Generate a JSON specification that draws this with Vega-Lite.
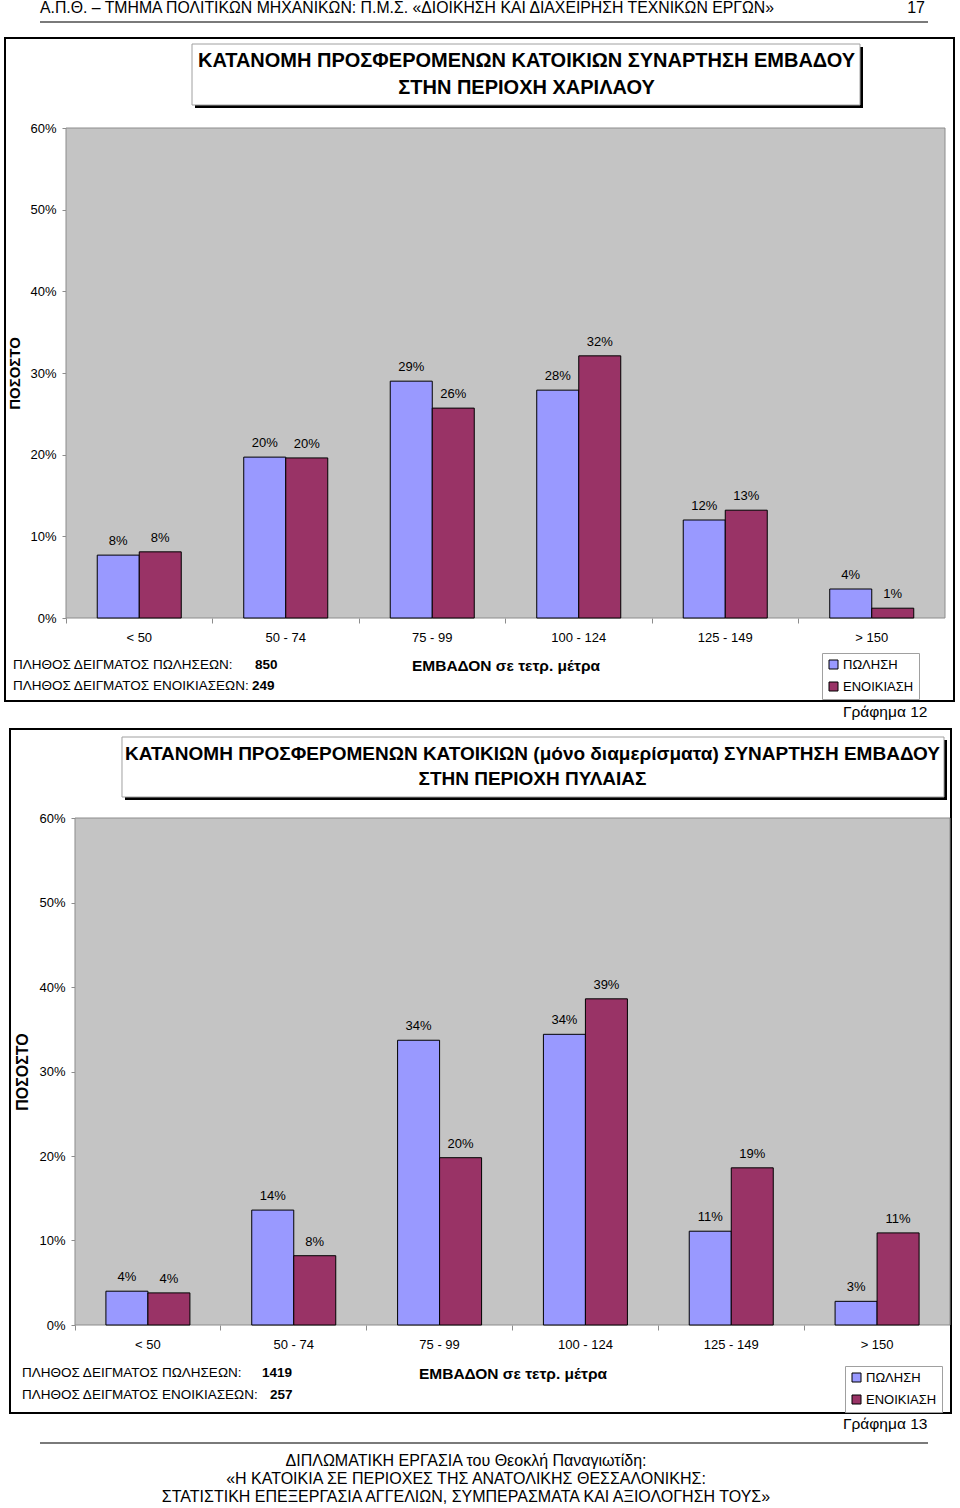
{
  "$schema": "https://vega.github.io/schema/vega-lite/v6.json",
  "width": 960,
  "height": 1508,
  "autosize": {"type": "none"},
  "padding": 0,
  "background": "white",
  "config": {
    "view": {"stroke": null},
    "mark": {"invalid": null},
    "font": "Liberation Sans",
    "text": {"font": "Liberation Sans", "color": "black"},
    "axis": {"grid": false, "labelFont": "Liberation Sans", "titleFont": "Liberation Sans", "labelColor": "black", "titleColor": "black", "domainColor": "#8c8c8c", "tickColor": "#8c8c8c"}
  },
  "layer": [
    {
      "data": {"values": [
        {"kind": "bar", "cat": "< 50", "series": "ΠΩΛΗΣΗ", "value": 0.077},
        {"kind": "bar", "cat": "< 50", "series": "ΕΝΟΙΚΙΑΣΗ", "value": 0.081},
        {"kind": "bar", "cat": "50 - 74", "series": "ΠΩΛΗΣΗ", "value": 0.197},
        {"kind": "bar", "cat": "50 - 74", "series": "ΕΝΟΙΚΙΑΣΗ", "value": 0.196},
        {"kind": "bar", "cat": "75 - 99", "series": "ΠΩΛΗΣΗ", "value": 0.29},
        {"kind": "bar", "cat": "75 - 99", "series": "ΕΝΟΙΚΙΑΣΗ", "value": 0.257},
        {"kind": "bar", "cat": "100 - 124", "series": "ΠΩΛΗΣΗ", "value": 0.279},
        {"kind": "bar", "cat": "100 - 124", "series": "ΕΝΟΙΚΙΑΣΗ", "value": 0.321},
        {"kind": "bar", "cat": "125 - 149", "series": "ΠΩΛΗΣΗ", "value": 0.12},
        {"kind": "bar", "cat": "125 - 149", "series": "ΕΝΟΙΚΙΑΣΗ", "value": 0.132},
        {"kind": "bar", "cat": "> 150", "series": "ΠΩΛΗΣΗ", "value": 0.0355},
        {"kind": "bar", "cat": "> 150", "series": "ΕΝΟΙΚΙΑΣΗ", "value": 0.012},
        {"kind": "note", "id": "title", "cat": "< 50", "value": 0, "t": "ΚΑΤΑΝΟΜΗ ΠΡΟΣΦΕΡΟΜΕΝΩΝ ΚΑΤΟΙΚΙΩΝ ΣΥΝΑΡΤΗΣΗ ΕΜΒΑΔΟΥ\nΣΤΗΝ ΠΕΡΙΟΧΗ ΧΑΡΙΛΑΟΥ"},
        {"kind": "note", "id": "n1", "cat": "< 50", "value": 0, "t": "ΠΛΗΘΟΣ ΔΕΙΓΜΑΤΟΣ ΠΩΛΗΣΕΩΝ:"},
        {"kind": "note", "id": "v1", "cat": "< 50", "value": 0, "t": "850"},
        {"kind": "note", "id": "n2", "cat": "< 50", "value": 0, "t": "ΠΛΗΘΟΣ ΔΕΙΓΜΑΤΟΣ ΕΝΟΙΚΙΑΣΕΩΝ:"},
        {"kind": "note", "id": "v2", "cat": "< 50", "value": 0, "t": "249"},
        {"kind": "note", "id": "fig", "cat": "< 50", "value": 0, "t": "Γράφημα 12"},
        {"kind": "note", "id": "header", "cat": "< 50", "value": 0, "t": "Α.Π.Θ. – ΤΜΗΜΑ ΠΟΛΙΤΙΚΩΝ ΜΗΧΑΝΙΚΩΝ: Π.Μ.Σ. «ΔΙΟΙΚΗΣΗ ΚΑΙ ΔΙΑΧΕΙΡΗΣΗ ΤΕΧΝΙΚΩΝ ΕΡΓΩΝ»"},
        {"kind": "note", "id": "page", "cat": "< 50", "value": 0, "t": "17"}
      ]},
      "encoding": {
        "x": {"field": "cat", "type": "nominal", "sort": null,
          "scale": {"type": "band", "domain": ["< 50", "50 - 74", "75 - 99", "100 - 124", "125 - 149", "> 150"], "range": [66, 945], "paddingInner": 0, "paddingOuter": 0},
          "axis": {"orient": "bottom", "offset": -890, "title": "ΕΜΒΑΔΟΝ σε τετρ. μέτρα", "titleFontSize": 15.5, "titleFontWeight": "bold", "titleY": 47, "titleBaseline": "middle", "labelFontSize": 13, "labelPadding": 8, "tickSize": 5, "bandPosition": 0, "labelAngle": 0, "domain": false}},
        "y": {"field": "value", "type": "quantitative",
          "scale": {"domain": [0, 0.6], "range": [618, 128], "nice": false, "zero": true},
          "axis": {"orient": "left", "offset": -66, "values": [0, 0.1, 0.2, 0.3, 0.4, 0.5, 0.6], "format": ".0%", "labelFontSize": 13, "labelPadding": 6, "tickSize": 4, "title": "ΠΟΣΟΣΤΟ", "titleFontSize": 15, "titleFontWeight": "bold", "titleX": -52, "titleBaseline": "middle", "domain": false}}
      },
      "layer": [
        {
          "transform": [{"filter": "datum.id == 'title'"}],
          "mark": {"type": "rect", "filled": false, "stroke": "black", "strokeWidth": 2, "xOffset": -134.25, "x2Offset": 82.25, "yOffset": -90, "y2Offset": 83},
          "encoding": {"x": {"datum": "< 50"}, "x2": {"datum": "> 150"}, "y": {"datum": 0.6}, "y2": {"datum": 0}}
        },
        {
          "transform": [{"filter": "datum.id == 'title'"}],
          "mark": {"type": "rect", "fill": "#c4c4c4", "stroke": "#8c8c8c", "strokeWidth": 1, "xOffset": -73.25, "x2Offset": 73.25},
          "encoding": {"x": {"datum": "< 50"}, "x2": {"datum": "> 150"}, "y": {"datum": 0.6}, "y2": {"datum": 0}}
        },
        {
          "transform": [{"filter": "datum.kind == 'bar'"}],
          "mark": {"type": "bar", "stroke": "black", "strokeWidth": 1},
          "encoding": {
            "xOffset": {"field": "series", "type": "nominal", "sort": null, "scale": {"domain": ["ΠΩΛΗΣΗ", "ΕΝΟΙΚΙΑΣΗ"], "paddingInner": 0, "paddingOuter": 0.744}},
            "color": {"field": "series", "type": "nominal", "sort": null,
              "scale": {"domain": ["ΠΩΛΗΣΗ", "ΕΝΟΙΚΙΑΣΗ"], "range": ["#9999ff", "#993366"]},
              "legend": {"orient": "none", "legendX": 822, "legendY": 653, "title": null, "symbolType": "square", "symbolSize": 81, "symbolStrokeColor": "black", "symbolStrokeWidth": 1, "labelFontSize": 13, "labelFont": "Liberation Sans", "labelColor": "black", "rowPadding": 8, "padding": 5, "strokeColor": "#a0a0a0", "fillColor": "white", "labelOffset": 3}}
          }
        },
        {
          "transform": [{"filter": "datum.kind == 'bar'"}],
          "mark": {"type": "text", "baseline": "bottom", "dy": -7, "fontSize": 13},
          "encoding": {
            "xOffset": {"field": "series", "type": "nominal", "sort": null, "scale": {"domain": ["ΠΩΛΗΣΗ", "ΕΝΟΙΚΙΑΣΗ"], "paddingInner": 0, "paddingOuter": 0.744}},
            "text": {"field": "value", "type": "quantitative", "format": ".0%"}
          }
        },
        {
          "transform": [{"filter": "datum.id == 'title'"}],
          "mark": {"type": "rect", "fill": "black", "xOffset": 55.75, "x2Offset": -8.75, "yOffset": -81, "y2Offset": -510},
          "encoding": {"x": {"datum": "< 50"}, "x2": {"datum": "> 150"}, "y": {"datum": 0.6}, "y2": {"datum": 0}}
        },
        {
          "transform": [{"filter": "datum.id == 'title'"}],
          "mark": {"type": "rect", "fill": "white", "stroke": "#a0a0a0", "strokeWidth": 1, "xOffset": 52.75, "x2Offset": -11.75, "yOffset": -84, "y2Offset": -513},
          "encoding": {"x": {"datum": "< 50"}, "x2": {"datum": "> 150"}, "y": {"datum": 0.6}, "y2": {"datum": 0}}
        },
        {
          "transform": [{"filter": "datum.id == 'title'"}],
          "mark": {"type": "text", "align": "center", "baseline": "top", "lineBreak": "\n", "lineHeight": 27, "fontSize": 20, "fontWeight": "bold", "dx": 387.25, "dy": -76.6},
          "encoding": {"x": {"datum": "< 50"}, "y": {"datum": 0.6}, "text": {"field": "t"}}
        },
        {
          "transform": [{"filter": "datum.id == 'n1'"}],
          "mark": {"type": "text", "align": "left", "baseline": "middle", "fontSize": 13.5, "dx": -126.25, "dy": 47},
          "encoding": {"x": {"datum": "< 50"}, "y": {"datum": 0}, "text": {"field": "t"}}
        },
        {
          "transform": [{"filter": "datum.id == 'v1'"}],
          "mark": {"type": "text", "align": "left", "baseline": "middle", "fontSize": 13.5, "fontWeight": "bold", "dx": 115.75, "dy": 47},
          "encoding": {"x": {"datum": "< 50"}, "y": {"datum": 0}, "text": {"field": "t"}}
        },
        {
          "transform": [{"filter": "datum.id == 'n2'"}],
          "mark": {"type": "text", "align": "left", "baseline": "middle", "fontSize": 13.5, "dx": -126.25, "dy": 68},
          "encoding": {"x": {"datum": "< 50"}, "y": {"datum": 0}, "text": {"field": "t"}}
        },
        {
          "transform": [{"filter": "datum.id == 'v2'"}],
          "mark": {"type": "text", "align": "left", "baseline": "middle", "fontSize": 13.5, "fontWeight": "bold", "dx": 112.75, "dy": 68},
          "encoding": {"x": {"datum": "< 50"}, "y": {"datum": 0}, "text": {"field": "t"}}
        },
        {
          "transform": [{"filter": "datum.id == 'fig'"}],
          "mark": {"type": "text", "align": "left", "baseline": "middle", "fontSize": 15.5, "dx": -28.75, "dy": 94},
          "encoding": {"x": {"datum": "> 150"}, "y": {"datum": 0}, "text": {"field": "t"}}
        },
        {
          "transform": [{"filter": "datum.id == 'header'"}],
          "mark": {"type": "text", "align": "left", "baseline": "middle", "fontSize": 15.8, "dx": -99.25, "dy": -120},
          "encoding": {"x": {"datum": "< 50"}, "y": {"datum": 0.6}, "text": {"field": "t"}}
        },
        {
          "transform": [{"filter": "datum.id == 'page'"}],
          "mark": {"type": "text", "align": "right", "baseline": "middle", "fontSize": 16, "dx": 53.25, "dy": -120},
          "encoding": {"x": {"datum": "> 150"}, "y": {"datum": 0.6}, "text": {"field": "t"}}
        },
        {
          "transform": [{"filter": "datum.id == 'title'"}],
          "mark": {"type": "rule", "color": "#7a7a7a", "strokeWidth": 2, "xOffset": -99.25, "x2Offset": 56.25, "yOffset": -106},
          "encoding": {"x": {"datum": "< 50"}, "x2": {"datum": "> 150"}, "y": {"datum": 0.6}}
        }
      ]
    },
    {
      "data": {"values": [
        {"kind": "bar", "cat": "< 50", "series": "ΠΩΛΗΣΗ", "value": 0.040},
        {"kind": "bar", "cat": "< 50", "series": "ΕΝΟΙΚΙΑΣΗ", "value": 0.038},
        {"kind": "bar", "cat": "50 - 74", "series": "ΠΩΛΗΣΗ", "value": 0.136},
        {"kind": "bar", "cat": "50 - 74", "series": "ΕΝΟΙΚΙΑΣΗ", "value": 0.082},
        {"kind": "bar", "cat": "75 - 99", "series": "ΠΩΛΗΣΗ", "value": 0.337},
        {"kind": "bar", "cat": "75 - 99", "series": "ΕΝΟΙΚΙΑΣΗ", "value": 0.198},
        {"kind": "bar", "cat": "100 - 124", "series": "ΠΩΛΗΣΗ", "value": 0.344},
        {"kind": "bar", "cat": "100 - 124", "series": "ΕΝΟΙΚΙΑΣΗ", "value": 0.386},
        {"kind": "bar", "cat": "125 - 149", "series": "ΠΩΛΗΣΗ", "value": 0.111},
        {"kind": "bar", "cat": "125 - 149", "series": "ΕΝΟΙΚΙΑΣΗ", "value": 0.186},
        {"kind": "bar", "cat": "> 150", "series": "ΠΩΛΗΣΗ", "value": 0.028},
        {"kind": "bar", "cat": "> 150", "series": "ΕΝΟΙΚΙΑΣΗ", "value": 0.109},
        {"kind": "note", "id": "title", "cat": "< 50", "value": 0, "t": "ΚΑΤΑΝΟΜΗ ΠΡΟΣΦΕΡΟΜΕΝΩΝ ΚΑΤΟΙΚΙΩΝ (μόνο διαμερίσματα) ΣΥΝΑΡΤΗΣΗ ΕΜΒΑΔΟΥ\nΣΤΗΝ ΠΕΡΙΟΧΗ ΠΥΛΑΙΑΣ"},
        {"kind": "note", "id": "n1", "cat": "< 50", "value": 0, "t": "ΠΛΗΘΟΣ ΔΕΙΓΜΑΤΟΣ ΠΩΛΗΣΕΩΝ:"},
        {"kind": "note", "id": "v1", "cat": "< 50", "value": 0, "t": "1419"},
        {"kind": "note", "id": "n2", "cat": "< 50", "value": 0, "t": "ΠΛΗΘΟΣ ΔΕΙΓΜΑΤΟΣ ΕΝΟΙΚΙΑΣΕΩΝ:"},
        {"kind": "note", "id": "v2", "cat": "< 50", "value": 0, "t": "257"},
        {"kind": "note", "id": "fig", "cat": "< 50", "value": 0, "t": "Γράφημα 13"},
        {"kind": "note", "id": "footer", "cat": "< 50", "value": 0, "t": "ΔΙΠΛΩΜΑΤΙΚΗ ΕΡΓΑΣΙΑ του Θεοκλή Παναγιωτίδη:\n«Η ΚΑΤΟΙΚΙΑ ΣΕ ΠΕΡΙΟΧΕΣ ΤΗΣ ΑΝΑΤΟΛΙΚΗΣ ΘΕΣΣΑΛΟΝΙΚΗΣ:\nΣΤΑΤΙΣΤΙΚΗ ΕΠΕΞΕΡΓΑΣΙΑ ΑΓΓΕΛΙΩΝ, ΣΥΜΠΕΡΑΣΜΑΤΑ ΚΑΙ ΑΞΙΟΛΟΓΗΣΗ ΤΟΥΣ»"}
      ]},
      "encoding": {
        "x": {"field": "cat", "type": "nominal", "sort": null,
          "scale": {"type": "band", "domain": ["< 50", "50 - 74", "75 - 99", "100 - 124", "125 - 149", "> 150"], "range": [75, 950], "paddingInner": 0, "paddingOuter": 0},
          "axis": {"orient": "bottom", "offset": -183, "title": "ΕΜΒΑΔΟΝ σε τετρ. μέτρα", "titleFontSize": 15.5, "titleFontWeight": "bold", "titleY": 48, "titleBaseline": "middle", "labelFontSize": 13, "labelPadding": 8, "tickSize": 5, "bandPosition": 0, "labelAngle": 0, "domain": false}},
        "y": {"field": "value", "type": "quantitative",
          "scale": {"domain": [0, 0.6], "range": [1325, 818], "nice": false, "zero": true},
          "axis": {"orient": "left", "offset": -75, "values": [0, 0.1, 0.2, 0.3, 0.4, 0.5, 0.6], "format": ".0%", "labelFontSize": 13, "labelPadding": 6, "tickSize": 4, "title": "ΠΟΣΟΣΤΟ", "titleFontSize": 16, "titleFontWeight": "bold", "titleX": -53, "titleBaseline": "middle", "domain": false}}
      },
      "layer": [
        {
          "transform": [{"filter": "datum.id == 'title'"}],
          "mark": {"type": "rect", "filled": false, "stroke": "black", "strokeWidth": 2, "xOffset": -137.92, "x2Offset": 73.92, "yOffset": -89, "y2Offset": 88},
          "encoding": {"x": {"datum": "< 50"}, "x2": {"datum": "> 150"}, "y": {"datum": 0.6}, "y2": {"datum": 0}}
        },
        {
          "transform": [{"filter": "datum.id == 'title'"}],
          "mark": {"type": "rect", "fill": "#c4c4c4", "stroke": "#8c8c8c", "strokeWidth": 1, "xOffset": -72.92, "x2Offset": 72.92},
          "encoding": {"x": {"datum": "< 50"}, "x2": {"datum": "> 150"}, "y": {"datum": 0.6}, "y2": {"datum": 0}}
        },
        {
          "transform": [{"filter": "datum.kind == 'bar'"}],
          "mark": {"type": "bar", "stroke": "black", "strokeWidth": 1},
          "encoding": {
            "xOffset": {"field": "series", "type": "nominal", "sort": null, "scale": {"domain": ["ΠΩΛΗΣΗ", "ΕΝΟΙΚΙΑΣΗ"], "paddingInner": 0, "paddingOuter": 0.736}},
            "color": {"field": "series", "type": "nominal", "sort": null,
              "scale": {"domain": ["ΠΩΛΗΣΗ", "ΕΝΟΙΚΙΑΣΗ"], "range": ["#9999ff", "#993366"]},
              "legend": {"orient": "none", "legendX": 845, "legendY": 1366, "title": null, "symbolType": "square", "symbolSize": 81, "symbolStrokeColor": "black", "symbolStrokeWidth": 1, "labelFontSize": 13, "labelFont": "Liberation Sans", "labelColor": "black", "rowPadding": 8, "padding": 5, "strokeColor": "#a0a0a0", "fillColor": "white", "labelOffset": 3}}
          }
        },
        {
          "transform": [{"filter": "datum.kind == 'bar'"}],
          "mark": {"type": "text", "baseline": "bottom", "dy": -7, "fontSize": 13},
          "encoding": {
            "xOffset": {"field": "series", "type": "nominal", "sort": null, "scale": {"domain": ["ΠΩΛΗΣΗ", "ΕΝΟΙΚΙΑΣΗ"], "paddingInner": 0, "paddingOuter": 0.736}},
            "text": {"field": "value", "type": "quantitative", "format": ".0%"}
          }
        },
        {
          "transform": [{"filter": "datum.id == 'title'"}],
          "mark": {"type": "rect", "fill": "black", "xOffset": -22.92, "x2Offset": 69.92, "yOffset": -78, "y2Offset": -525},
          "encoding": {"x": {"datum": "< 50"}, "x2": {"datum": "> 150"}, "y": {"datum": 0.6}, "y2": {"datum": 0}}
        },
        {
          "transform": [{"filter": "datum.id == 'title'"}],
          "mark": {"type": "rect", "fill": "white", "stroke": "#a0a0a0", "strokeWidth": 1, "xOffset": -25.92, "x2Offset": 66.92, "yOffset": -81, "y2Offset": -528},
          "encoding": {"x": {"datum": "< 50"}, "x2": {"datum": "> 150"}, "y": {"datum": 0.6}, "y2": {"datum": 0}}
        },
        {
          "transform": [{"filter": "datum.id == 'title'"}],
          "mark": {"type": "text", "align": "center", "baseline": "top", "lineBreak": "\n", "lineHeight": 25, "fontSize": 19, "fontWeight": "bold", "dx": 384.58, "dy": -73.2},
          "encoding": {"x": {"datum": "< 50"}, "y": {"datum": 0.6}, "text": {"field": "t"}}
        },
        {
          "transform": [{"filter": "datum.id == 'n1'"}],
          "mark": {"type": "text", "align": "left", "baseline": "middle", "fontSize": 13.5, "dx": -125.92, "dy": 48},
          "encoding": {"x": {"datum": "< 50"}, "y": {"datum": 0}, "text": {"field": "t"}}
        },
        {
          "transform": [{"filter": "datum.id == 'v1'"}],
          "mark": {"type": "text", "align": "left", "baseline": "middle", "fontSize": 13.5, "fontWeight": "bold", "dx": 114.08, "dy": 48},
          "encoding": {"x": {"datum": "< 50"}, "y": {"datum": 0}, "text": {"field": "t"}}
        },
        {
          "transform": [{"filter": "datum.id == 'n2'"}],
          "mark": {"type": "text", "align": "left", "baseline": "middle", "fontSize": 13.5, "dx": -125.92, "dy": 70},
          "encoding": {"x": {"datum": "< 50"}, "y": {"datum": 0}, "text": {"field": "t"}}
        },
        {
          "transform": [{"filter": "datum.id == 'v2'"}],
          "mark": {"type": "text", "align": "left", "baseline": "middle", "fontSize": 13.5, "fontWeight": "bold", "dx": 122.08, "dy": 70},
          "encoding": {"x": {"datum": "< 50"}, "y": {"datum": 0}, "text": {"field": "t"}}
        },
        {
          "transform": [{"filter": "datum.id == 'fig'"}],
          "mark": {"type": "text", "align": "left", "baseline": "middle", "fontSize": 15.5, "dx": -34.08, "dy": 99},
          "encoding": {"x": {"datum": "> 150"}, "y": {"datum": 0}, "text": {"field": "t"}}
        },
        {
          "transform": [{"filter": "datum.id == 'title'"}],
          "mark": {"type": "rule", "color": "#7a7a7a", "strokeWidth": 2, "xOffset": -107.92, "x2Offset": 50.92, "yOffset": 118},
          "encoding": {"x": {"datum": "< 50"}, "x2": {"datum": "> 150"}, "y": {"datum": 0}}
        },
        {
          "transform": [{"filter": "datum.id == 'footer'"}],
          "mark": {"type": "text", "align": "center", "baseline": "top", "lineBreak": "\n", "lineHeight": 18, "fontSize": 16, "dx": 318.08, "dy": 128},
          "encoding": {"x": {"datum": "< 50"}, "y": {"datum": 0}, "text": {"field": "t"}}
        }
      ]
    }
  ],
  "resolve": {
    "scale": {"x": "independent", "y": "independent", "xOffset": "independent", "color": "independent"},
    "axis": {"x": "independent", "y": "independent"},
    "legend": {"color": "independent"}
  }
}
